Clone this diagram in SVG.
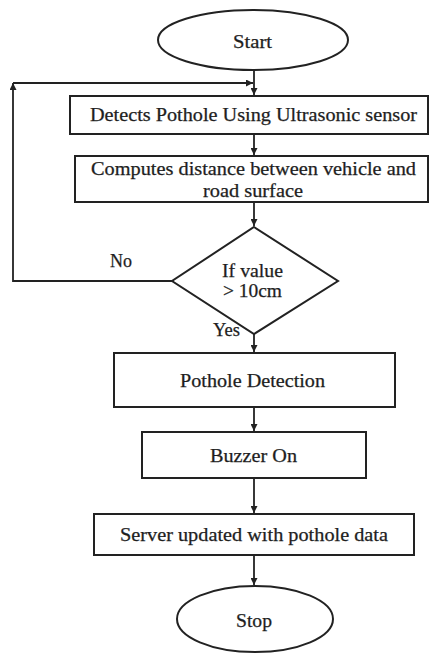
<svg xmlns="http://www.w3.org/2000/svg" width="429" height="653" viewBox="0 0 429 653">
<style>
.s{fill:#fff;stroke:#222;stroke-width:2}
.t{font-family:"Liberation Serif","Times New Roman",serif;font-size:18px;fill:#1e1e1e;stroke:#1e1e1e;stroke-width:0.25}
.c{fill:none;stroke:#222;stroke-width:1.8}
</style>
<defs>
<marker id="a" viewBox="0 0 10 10" refX="10" refY="5" markerWidth="7" markerHeight="7" markerUnits="userSpaceOnUse" orient="auto">
<path d="M0,0 L10,5 L0,10 z" fill="#222"/>
</marker>
</defs>
<rect width="429" height="653" fill="#fff"/>
<g id="connectors">
<line class="c" x1="254" y1="71" x2="254" y2="95" marker-end="url(#a)"/>
<polyline class="c" points="172,281 13,281 13,83" marker-end="url(#a)"/>
<line class="c" x1="13" y1="83" x2="253" y2="83" marker-end="url(#a)"/>
<line class="c" x1="254" y1="134" x2="254" y2="155" marker-end="url(#a)"/>
<line class="c" x1="254" y1="202" x2="254" y2="226" marker-end="url(#a)"/>
<line class="c" x1="254" y1="333" x2="254" y2="352" marker-end="url(#a)"/>
<line class="c" x1="254" y1="407" x2="254" y2="431" marker-end="url(#a)"/>
<line class="c" x1="254" y1="478" x2="254" y2="513" marker-end="url(#a)"/>
<line class="c" x1="254" y1="555" x2="254" y2="585" marker-end="url(#a)"/>
<text class="t" x="110" y="267" textLength="22" lengthAdjust="spacingAndGlyphs">No</text>
<text class="t" x="213" y="336" textLength="27" lengthAdjust="spacingAndGlyphs">Yes</text>
</g>
<g id="start">
<ellipse class="s" cx="253" cy="40" rx="95" ry="30"/>
<text class="t" x="233" y="48" textLength="39" lengthAdjust="spacingAndGlyphs">Start</text>
</g>
<g id="detect">
<rect class="s" x="70" y="96" width="358" height="38"/>
<text class="t" x="90" y="121" textLength="327" lengthAdjust="spacingAndGlyphs">Detects Pothole Using Ultrasonic sensor</text>
</g>
<g id="compute">
<rect class="s" x="75" y="156" width="353" height="46"/>
<text class="t" x="91" y="175" textLength="325" lengthAdjust="spacingAndGlyphs">Computes distance between vehicle and</text>
<text class="t" x="203" y="197" textLength="100" lengthAdjust="spacingAndGlyphs">road surface</text>
</g>
<g id="decision">
<polygon class="s" points="254,227 338,281 254,334 172,281"/>
<text class="t" x="222" y="277" textLength="61" lengthAdjust="spacingAndGlyphs">If value</text>
<text class="t" x="223" y="297" textLength="59" lengthAdjust="spacingAndGlyphs">&gt; 10cm</text>
</g>
<g id="pothole">
<rect class="s" x="114" y="353" width="281" height="54"/>
<text class="t" x="180" y="387" textLength="145" lengthAdjust="spacingAndGlyphs">Pothole Detection</text>
</g>
<g id="buzzer">
<rect class="s" x="142" y="432" width="224" height="46"/>
<text class="t" x="210" y="462" textLength="87" lengthAdjust="spacingAndGlyphs">Buzzer On</text>
</g>
<g id="server">
<rect class="s" x="94" y="514" width="320" height="41"/>
<text class="t" x="120" y="541" textLength="268" lengthAdjust="spacingAndGlyphs">Server updated with pothole data</text>
</g>
<g id="stop">
<ellipse class="s" cx="255" cy="619" rx="78" ry="33"/>
<text class="t" x="236" y="627" textLength="36" lengthAdjust="spacingAndGlyphs">Stop</text>
</g>
</svg>
